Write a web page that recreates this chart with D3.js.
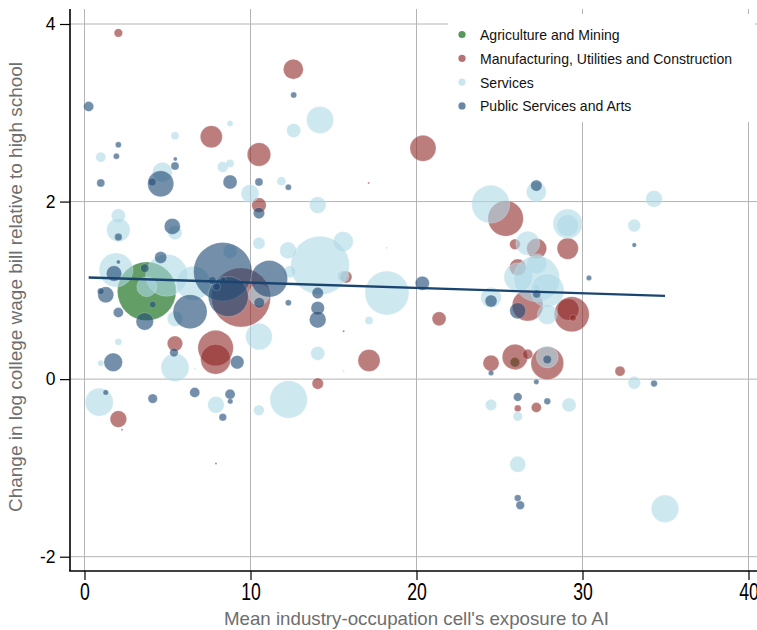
<!DOCTYPE html>
<html>
<head>
<meta charset="utf-8">
<script src="https://cdn.jsdelivr.net/npm/d3@7"></script>
<style>
  body { margin: 0; background: #fff; }
  svg { display: block; font-family: "Liberation Sans", Arial, Helvetica, sans-serif; }
</style>
</head>
<body>
<div id="chart"></div>
<script>
/* Bubble chart: change in college wage bill vs exposure to AI, by sector */

const categories = ["Agriculture and Mining", "Manufacturing, Utilities and Construction",
                    "Services", "Public Services and Arts"];
const xTicks = [0, 10, 20, 30, 40];
const yTicks = [-2, 0, 2, 4];

// each point: [mean exposure to AI, change in log wage bill, cell weight]
const agriculture = [
  [3.75, 0.99, 860], [25.93, 0.19, 22]
];

const manufacturing = [
  [2.04, 3.90, 18], [12.58, 3.49, 100], [7.64, 2.73, 121], [10.51, 2.53, 137],
  [20.39, 2.60, 169], [17.12, 2.21, 1], [25.37, 1.81, 313], [10.51, 1.96, 53],
  [15.75, 1.15, 36], [21.36, 0.68, 49], [17.14, 0.21, 121], [5.45, 0.40, 59],
  [7.90, 0.35, 313], [7.90, 0.225, 225], [9.43, 0.92, 870], [14.05, -0.05, 32],
  [2.04, -0.45, 69], [2.26, -0.57, 1], [29.11, 1.47, 114], [25.93, 1.52, 28],
  [27.24, 1.47, 100], [26.10, 1.26, 69], [26.70, 0.83, 240], [29.35, 0.73, 306],
  [29.14, 0.785, 121], [29.43, 0.69, 11], [24.49, 0.18, 64], [25.93, 0.25, 161],
  [26.70, 0.28, 25], [27.88, 0.18, 266], [26.10, -0.33, 11], [27.22, -0.32, 25],
  [32.26, 0.09, 25]
];

const services = [
  [14.19, 2.92, 182], [12.60, 2.80, 49], [8.77, 2.88, 9], [5.45, 2.74, 16],
  [0.98, 2.50, 25], [8.33, 2.39, 30], [8.77, 2.43, 16], [11.86, 2.23, 20],
  [4.69, 2.33, 100], [9.97, 2.09, 81], [14.05, 1.96, 69], [24.47, 1.97, 361],
  [15.59, 1.55, 100], [14.19, 1.28, 858], [18.20, 1.48, 1], [15.57, 1.16, 36],
  [18.22, 0.97, 484], [17.14, 0.66, 16], [15.61, 0.09, 1], [2.04, 1.84, 49],
  [2.04, 1.68, 137], [5.45, 1.65, 49], [10.51, 1.53, 36], [12.26, 1.45, 69],
  [8.78, 1.44, 49], [1.90, 1.23, 289], [4.95, 1.17, 441], [3.75, 1.04, 100],
  [6.55, 1.08, 289], [5.45, 0.68, 59], [0.98, 0.18, 9], [2.04, 0.42, 12],
  [5.45, 0.13, 196], [6.64, 0.12, 1], [10.51, 0.95, 110], [10.51, 0.48, 177],
  [12.38, 1.21, 36], [14.05, 0.29, 49], [10.51, -0.35, 28], [12.30, -0.23, 350],
  [0.89, -0.26, 196], [7.92, -0.29, 69], [27.22, 2.11, 100], [34.31, 2.03, 69],
  [33.12, 1.73, 40], [29.11, 1.75, 216], [29.11, 1.73, 121], [26.70, 1.53, 144],
  [27.24, 1.30, 100], [26.13, 1.15, 204], [27.24, 1.13, 529], [27.88, 1.00, 279],
  [27.24, 1.03, 16], [27.88, 0.73, 100], [24.49, 0.92, 106], [27.88, 0.25, 121],
  [24.49, -0.29, 32], [29.19, -0.29, 49], [26.10, -0.42, 22], [26.10, -0.96, 64],
  [34.97, -1.46, 188], [33.12, -0.04, 40]
];

const publicArts = [
  [0.25, 3.07, 25], [12.60, 3.20, 9], [2.04, 2.64, 9], [1.92, 2.51, 9],
  [5.47, 2.48, 4], [5.45, 2.40, 16], [0.98, 2.21, 16], [8.77, 2.22, 49],
  [10.51, 2.22, 16], [12.28, 2.16, 9], [4.59, 2.20, 169], [4.08, 2.22, 16],
  [10.51, 1.87, 32], [2.04, 1.60, 14], [5.29, 1.72, 64], [8.33, 1.21, 853],
  [2.04, 1.32, 4], [1.78, 1.19, 59], [4.59, 1.37, 36], [3.63, 1.25, 18],
  [6.36, 0.76, 289], [4.11, 0.84, 11], [3.63, 0.65, 76], [2.04, 0.75, 25],
  [1.28, 0.95, 64], [0.98, 0.99, 11], [1.73, 0.19, 86], [5.39, 0.30, 18],
  [9.20, 0.19, 45], [8.66, 0.93, 400], [7.70, 1.11, 16], [8.36, 1.12, 9],
  [7.96, 1.04, 16], [10.53, 0.86, 28], [11.13, 1.13, 335], [12.28, 0.86, 9],
  [14.05, 0.97, 32], [14.05, 0.80, 45], [14.05, 0.67, 69], [15.61, 0.54, 1],
  [1.28, -0.15, 7], [4.11, -0.22, 22], [6.64, -0.15, 25], [8.77, -0.17, 25],
  [8.78, -0.25, 7], [8.33, -0.43, 14], [7.92, -0.95, 1], [20.35, 1.08, 49],
  [27.22, 2.18, 32], [33.12, 1.51, 5], [27.24, 0.96, 16], [26.10, 0.77, 64],
  [24.49, 0.88, 36], [30.39, 1.14, 7], [24.49, 0.07, 7], [27.88, 0.22, 18],
  [27.22, -0.03, 7], [26.10, -0.20, 18], [27.88, -0.25, 11], [34.31, -0.05, 11],
  [26.10, -1.34, 11], [26.25, -1.42, 18]
];

// fitted line
const fitIntercept = 1.1467, fitSlope = -0.00597;

const seriesData = [agriculture, manufacturing, services, publicArts];
const colors = ["#2e7d32", "#8f2727", "#add8e6", "#1f4a75"];
const opacities = [0.75, 0.6, 0.6, 0.62];

const width = 757, height = 630;
const plot = { left: 70, top: 9, right: 770, bottom: 571 };

const svg = d3.select("#chart")
  .append("svg")
  .attr("width", width)
  .attr("height", height)
  .attr("viewBox", [0, 0, width, height]);

const x = d3.scaleLinear().domain([0, 40]).range([84.5, 748.5]);
const y = d3.scaleLinear().domain([-2, 4]).range([556.7, 24]);
const r = d3.scaleSqrt().domain([0, 900]).range([0, 30]);

svg.append("clipPath").attr("id", "clip")
  .append("rect")
  .attr("x", plot.left).attr("y", plot.top)
  .attr("width", plot.right - plot.left).attr("height", plot.bottom - plot.top);

// grid
const grid = svg.append("g").attr("stroke", "#b4b4b4").attr("stroke-width", 1);
grid.selectAll(".vg").data(xTicks).join("line")
  .attr("x1", d => x(d)).attr("x2", d => x(d))
  .attr("y1", plot.top).attr("y2", plot.bottom);
grid.selectAll(".hg").data(yTicks).join("line")
  .attr("x1", plot.left).attr("x2", plot.right)
  .attr("y1", d => y(d)).attr("y2", d => y(d));

// bubbles
const marks = svg.append("g").attr("clip-path", "url(#clip)");
seriesData.forEach((data, i) => {
  marks.append("g")
    .selectAll("circle")
    .data(data)
    .join("circle")
    .attr("cx", d => x(d[0]))
    .attr("cy", d => y(d[1]))
    .attr("r", d => r(d[2]))
    .attr("fill", colors[i])
    .attr("fill-opacity", opacities[i])
    .attr("stroke", "#fff")
    .attr("stroke-opacity", 0.35)
    .attr("stroke-width", 0.6);
});

// fitted line over the range of the data
const allX = seriesData.flat().map(d => d[0]);
const [xMin, xMax] = d3.extent(allX);
svg.append("line")
  .attr("x1", x(xMin)).attr("y1", y(fitIntercept + fitSlope * xMin))
  .attr("x2", x(xMax)).attr("y2", y(fitIntercept + fitSlope * xMax))
  .attr("stroke", "#1b4571")
  .attr("stroke-width", 2.4);

// legend
const legend = svg.append("g");
legend.append("rect")
  .attr("x", 448).attr("y", 14).attr("width", 307).attr("height", 108)
  .attr("fill", "#fff");
const item = legend.selectAll(".item").data(categories).join("g")
  .attr("transform", (d, i) => `translate(462,${34.5 + i * 23.8})`);
item.append("circle")
  .attr("r", 3.6)
  .attr("fill", (d, i) => colors[i])
  .attr("fill-opacity", (d, i) => opacities[i] + 0.05);
const legendText = item.append("text")
  .attr("x", 18).attr("y", 5.5)
  .attr("font-size", 15)
  .attr("fill", "#111")
  .text(d => d);
const longest = legendText.filter(d => d === categories[1]).node().getComputedTextLength();
const squeeze = 252 / longest;
legendText.each(function() {
  const w = this.getComputedTextLength();
  d3.select(this).attr("textLength", w * squeeze).attr("lengthAdjust", "spacingAndGlyphs");
});

// axes
const yAxis = svg.append("g")
  .attr("transform", `translate(${plot.left},0)`)
  .call(d3.axisLeft(y).tickValues(yTicks).tickSize(10).tickPadding(4.5).tickFormat(d => String(d)));
yAxis.select(".domain").remove();
yAxis.selectAll("line").attr("stroke", "#000").attr("stroke-width", 1.2);
yAxis.selectAll("text").attr("font-size", 17.5).attr("fill", "#000").attr("font-family", "inherit");
yAxis.append("line")
  .attr("y1", plot.top).attr("y2", plot.bottom)
  .attr("stroke", "#000").attr("stroke-width", 1.6);

const xAxis = svg.append("g")
  .attr("transform", `translate(0,${plot.bottom})`)
  .call(d3.axisBottom(x).tickValues(xTicks).tickSize(9));
xAxis.select(".domain").remove();
xAxis.selectAll("line").attr("stroke", "#000").attr("stroke-width", 1.2);
// tall, narrow tick labels as in the reference
xAxis.selectAll("text")
  .attr("font-size", 24.5)
  .attr("fill", "#000")
  .attr("font-family", "inherit")
  .attr("y", 29)
  .attr("dy", 0)
  .each(function() {
    const w = this.getComputedTextLength();
    d3.select(this).attr("textLength", w * 0.72).attr("lengthAdjust", "spacingAndGlyphs");
  });
xAxis.append("line")
  .attr("x1", plot.left - 0.8).attr("x2", plot.right)
  .attr("stroke", "#000").attr("stroke-width", 1.6);

// axis titles
svg.append("text")
  .attr("x", 416.5).attr("y", 625)
  .attr("text-anchor", "middle")
  .attr("font-size", 18.5)
  .attr("fill", "#6e6e6e")
  .attr("textLength", 385).attr("lengthAdjust", "spacingAndGlyphs")
  .text("Mean industry-occupation cell's exposure to AI");

svg.append("text")
  .attr("transform", "translate(22,287) rotate(-90)")
  .attr("text-anchor", "middle")
  .attr("font-size", 18.5)
  .attr("fill", "#6e6e6e")
  .attr("textLength", 450).attr("lengthAdjust", "spacingAndGlyphs")
  .text("Change in log college wage bill relative to high school");
</script>
</body>
</html>
